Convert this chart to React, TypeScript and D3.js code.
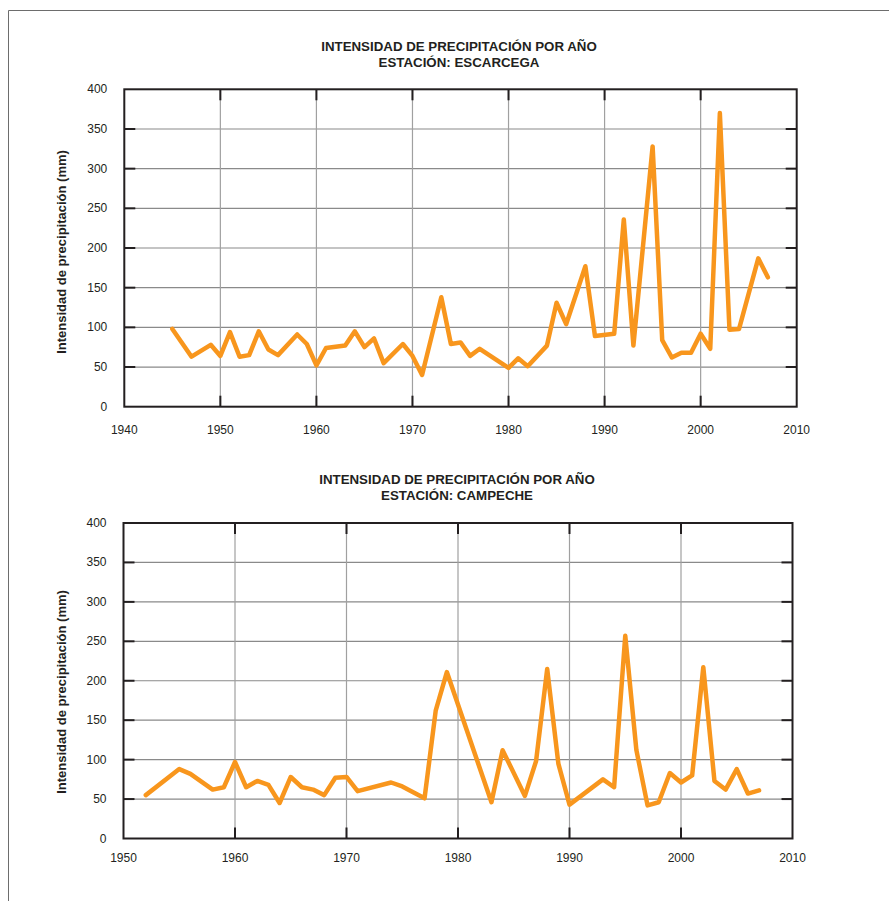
import React from 'react';
import { scaleLinear, line, range } from 'd3';

// Escárcega station
const escYears = [1945, 1947, 1949, 1950, 1951, 1952, 1953, 1954, 1955, 1956, 1958, 1959, 1960, 1961, 1963, 1964, 1965, 1966, 1967, 1969, 1970, 1971, 1973, 1974, 1975, 1976, 1977, 1980, 1981, 1982, 1984, 1985, 1986, 1988, 1989, 1991, 1992, 1993, 1995, 1996, 1997, 1998, 1999, 2000, 2001, 2002, 2003, 2004, 2006, 2007];
const escValues = [98, 63, 78, 64, 94, 63, 65, 95, 72, 65, 91, 79, 52, 74, 77, 95, 75, 86, 55, 79, 64, 40, 138, 79, 81, 64, 73, 49, 61, 51, 77, 131, 104, 177, 89, 92, 236, 77, 328, 84, 62, 68, 68, 92, 73, 370, 97, 98, 187, 163];

// Campeche station
const campYears = [1952, 1955, 1956, 1958, 1959, 1960, 1961, 1962, 1963, 1964, 1965, 1966, 1967, 1968, 1969, 1970, 1971, 1974, 1975, 1977, 1978, 1979, 1983, 1984, 1986, 1987, 1988, 1989, 1990, 1993, 1994, 1995, 1996, 1997, 1998, 1999, 2000, 2001, 2002, 2003, 2004, 2005, 2006, 2007];
const campValues = [55, 88, 82, 62, 65, 97, 65, 73, 68, 45, 78, 65, 62, 55, 77, 78, 60, 71, 66, 51, 162, 211, 46, 112, 54, 98, 215, 95, 43, 75, 65, 257, 112, 42, 46, 83, 71, 80, 217, 73, 62, 88, 57, 61];

const titleLine1 = 'INTENSIDAD DE PRECIPITACIÓN POR AÑO';
const yLabel = 'Intensidad de precipitación (mm)';
const yTicks = [0, 50, 100, 150, 200, 250, 300, 350, 400];

const FONT = '"Liberation Sans", Arial, sans-serif';
const ORANGE = '#f8961d';

type PanelProps = {
  years: number[];
  values: number[];
  xDomain: [number, number];
  station: string;
  left: number; right: number; top: number; bottom: number;
  titleY: number; titleX: number;
  xLabelY: number;
  yLabelCenter: number;
};

const Panel = (p: PanelProps) => {
  const x = scaleLinear().domain(p.xDomain).range([p.left, p.right]);
  const y = scaleLinear().domain([0, 400]).range([p.bottom, p.top]);
  const xTicks = range(p.xDomain[0], p.xDomain[1] + 1, 10);
  const pts = p.years.map((yr, i) => [yr, p.values[i]] as [number, number]);
  const path = line<[number, number]>().x(d => x(d[0])).y(d => y(d[1]))(pts) || '';
  const tl = 11;

  return (
    <g>
      <text x={p.titleX} y={p.titleY} textAnchor="middle" fontFamily={FONT} fontWeight="bold" fontSize={13.3} fill="#231f20">{titleLine1}</text>
      <text x={p.titleX} y={p.titleY + 16} textAnchor="middle" fontFamily={FONT} fontWeight="bold" fontSize={13.3} fill="#231f20">{'ESTACIÓN: ' + p.station}</text>

      {/* grid */}
      {yTicks.slice(1, -1).map(t => (
        <line key={'h' + t} x1={p.left} x2={p.right} y1={y(t)} y2={y(t)} stroke="#8a8a8a" strokeWidth={1.2} />
      ))}
      {xTicks.slice(1, -1).map(t => (
        <line key={'v' + t} x1={x(t)} x2={x(t)} y1={p.top} y2={p.bottom} stroke="#a0a0a0" strokeWidth={1.2} />
      ))}

      {/* inward ticks */}
      {xTicks.slice(1, -1).map(t => (
        <g key={'xt' + t}>
          <line x1={x(t)} x2={x(t)} y1={p.top} y2={p.top + tl} stroke="#231f20" strokeWidth={2} />
          <line x1={x(t)} x2={x(t)} y1={p.bottom} y2={p.bottom - tl} stroke="#231f20" strokeWidth={2} />
        </g>
      ))}
      {yTicks.slice(1, -1).map(t => (
        <g key={'yt' + t}>
          <line x1={p.left} x2={p.left + tl} y1={y(t)} y2={y(t)} stroke="#231f20" strokeWidth={2} />
          <line x1={p.right} x2={p.right - tl} y1={y(t)} y2={y(t)} stroke="#231f20" strokeWidth={2} />
        </g>
      ))}

      <rect x={p.left} y={p.top} width={p.right - p.left} height={p.bottom - p.top} fill="none" stroke="#231f20" strokeWidth={2} />

      <path d={path} fill="none" stroke={ORANGE} strokeWidth={4.5} strokeLinejoin="round" strokeLinecap="round" />

      {/* tick labels */}
      {yTicks.map(t => (
        <text key={'yl' + t} x={p.left - 17} y={y(t) + 4} textAnchor="end" fontFamily={FONT} fontSize={12} fill="#231f20">{t}</text>
      ))}
      {xTicks.map(t => (
        <text key={'xl' + t} x={x(t)} y={p.xLabelY} textAnchor="middle" fontFamily={FONT} fontSize={12} fill="#231f20">{t}</text>
      ))}

      <text transform={`translate(66, ${p.yLabelCenter}) rotate(-90)`} textAnchor="middle" fontFamily={FONT} fontWeight="bold" fontSize={13} fill="#231f20">{yLabel}</text>
    </g>
  );
};

export default function App() {
  return (
    <svg width={889} height={901} style={{ position: 'absolute', left: 0, top: 0, background: '#fff' }}>
      <rect x={0} y={0} width={889} height={901} fill="#fff" />
      <line x1={8.5} x2={889} y1={10.5} y2={10.5} stroke="#6d6d6d" strokeWidth={1} />
      <line x1={8.5} x2={8.5} y1={10.5} y2={901} stroke="#6d6d6d" strokeWidth={1} />
      <Panel years={escYears} values={escValues} xDomain={[1940, 2010]} station="ESCARCEGA"
        left={124.3} right={796.7} top={89.3} bottom={406.7}
        titleX={459} titleY={50.5} xLabelY={434} yLabelCenter={252} />
      <Panel years={campYears} values={campValues} xDomain={[1950, 2010]} station="CAMPECHE"
        left={123.5} right={792.5} top={523} bottom={838.5}
        titleX={457} titleY={483.5} xLabelY={862} yLabelCenter={692} />
    </svg>
  );
}
